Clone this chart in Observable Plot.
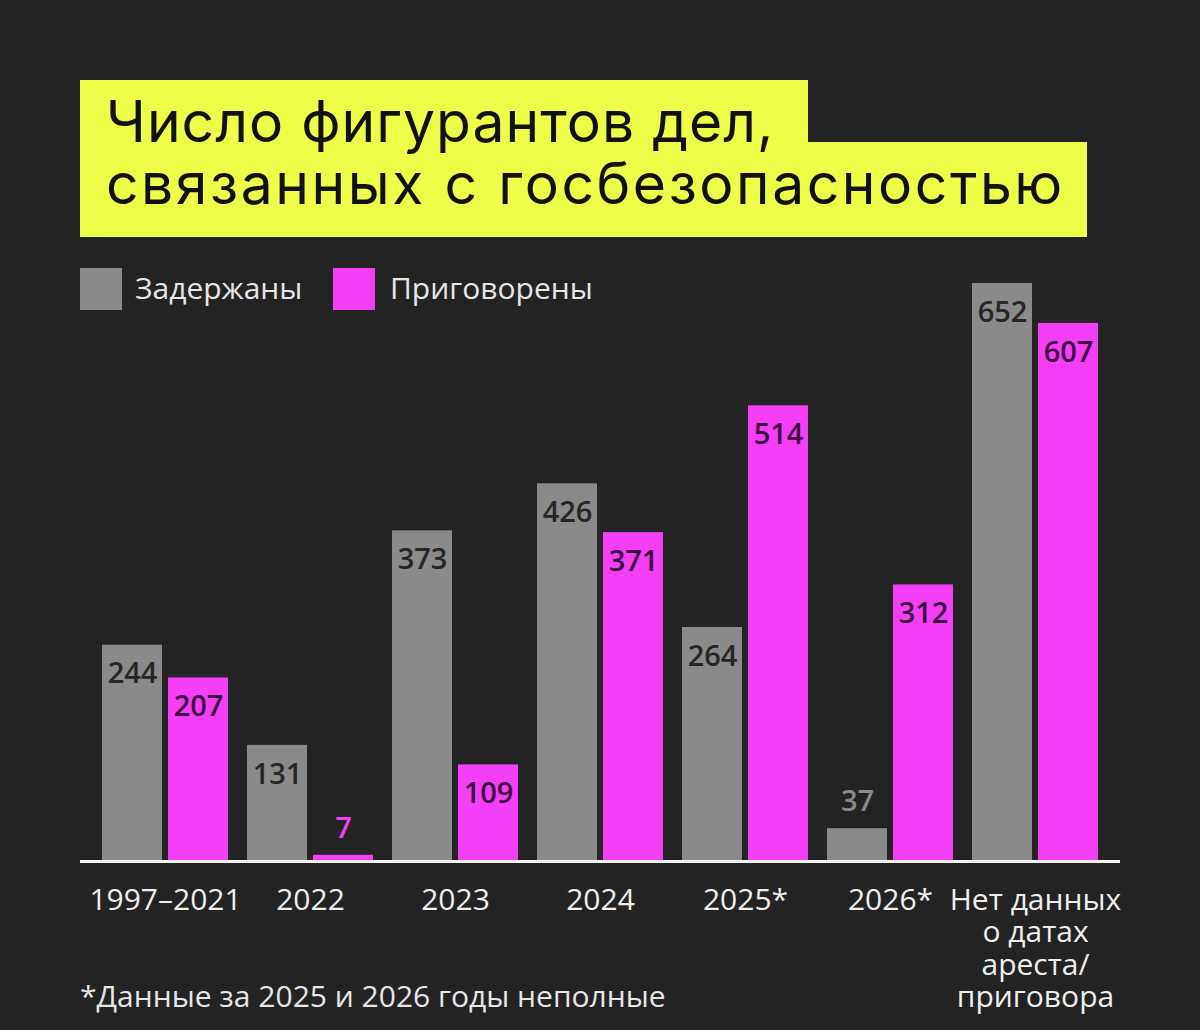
<!DOCTYPE html>
<html>
<head>
<meta charset="utf-8">
<script src="https://cdn.jsdelivr.net/npm/d3@7"></script>
<script src="https://cdn.jsdelivr.net/npm/@observablehq/plot@0.6"></script>
<style>
  html, body { margin: 0; padding: 0; background: #232323; }
  #page { position: relative; width: 1200px; height: 1030px; background: #232323; overflow: hidden; font-family: "Open Sans", "Noto Sans", sans-serif; }
  .ybox { position: absolute; background: #eeff4a; }
  .tline { position: absolute; left: 106px; font-family: "Inter", "Liberation Sans", sans-serif; font-weight: 400; font-size: 57px; line-height: 62px; color: #111; white-space: nowrap; }
  .leg { position: absolute; top: 267px; height: 41px; line-height: 41px; font-size: 30px; color: #e6e6e6; white-space: nowrap; }
  .sw { position: absolute; top: 268px; width: 42px; height: 42px; }
  #chart { position: absolute; left: 0; top: 270px; }
  #note { position: absolute; left: 80px; top: 975px; font-size: 30px; line-height: 41px; color: #e6e6e6; white-space: nowrap; }
</style>
</head>
<body>
<div id="page">
  <div class="ybox" style="left:80px;top:80px;width:728px;height:63px;"></div>
  <div class="ybox" style="left:80px;top:142px;width:1007px;height:95px;"></div>
  <div class="tline" style="top:91px;letter-spacing:1px;">Число фигурантов дел,</div>
  <div class="tline" style="top:153px;letter-spacing:2.55px;">связанных с госбезопасностью</div>
  <div id="chart"></div>
  <div class="sw" style="left:80px;background:#8a8a8a;"></div>
  <div class="leg" style="left:135px;">Задержаны</div>
  <div class="sw" style="left:333px;background:#f43ff7;"></div>
  <div class="leg" style="left:390px;">Приговорены</div>
  <div id="note">*Данные за 2025 и 2026 годы неполные</div>
</div>
<script>
const categories = ["1997–2021", "2022", "2023", "2024", "2025*", "2026*", "Нет данных\nо датах\nареста/\nприговора"];
const detained   = [244, 131, 373, 426, 264, 37, 652];
const sentenced  = [207, 7, 109, 371, 514, 312, 607];
const seriesNames = ["Задержаны", "Приговорены"];
const seriesColors = ["#8a8a8a", "#f43ff7"];

const gray = categories.map((c, i) => ({cat: c, series: seriesNames[0], value: detained[i]}));
const pink = categories.map((c, i) => ({cat: c, series: seriesNames[1], value: sentenced[i]}));
const maxV = d3.max([...detained, ...sentenced]);
const inside = d => d.value > 60;

const chart = Plot.plot({
  width: 1200,
  height: 760,
  marginLeft: 80,
  marginRight: 80,
  marginTop: 13,
  marginBottom: 169,
  style: {background: "transparent", fontFamily: "Open Sans, Noto Sans, sans-serif"},
  x: {type: "band", domain: categories, paddingInner: 0.133, paddingOuter: 0.151, axis: null},
  y: {domain: [0, maxV], axis: null},
  marks: [
    Plot.barY(gray, {x: "cat", y: "value", fill: seriesColors[0], insetRight: 66}),
    Plot.barY(pink, {x: "cat", y: "value", fill: seriesColors[1], insetLeft: 66}),
    Plot.ruleY([0], {stroke: "#f2f2f2", strokeWidth: 3}),
    Plot.text(gray.filter(inside), {x: "cat", y: "value", text: d => String(d.value), dx: -33, dy: 29, fill: "#262626", fontSize: 29, fontWeight: 600}),
    Plot.text(pink.filter(inside), {x: "cat", y: "value", text: d => String(d.value), dx: 33, dy: 29, fill: "#3a0c40", fontSize: 29, fontWeight: 600}),
    Plot.text(gray.filter(d => !inside(d)), {x: "cat", y: "value", text: d => String(d.value), dx: -33, dy: -27, fill: seriesColors[0], fontSize: 29, fontWeight: 600}),
    Plot.text(pink.filter(d => !inside(d)), {x: "cat", y: "value", text: d => String(d.value), dx: 33, dy: -27, fill: seriesColors[1], fontSize: 29, fontWeight: 600}),
    Plot.text(categories, {x: d => d, text: d => d, frameAnchor: "bottom", lineAnchor: "top", dy: 25, lineHeight: 1.083, fill: "#eeeeee", fontSize: 30})
  ]
});
document.getElementById("chart").appendChild(chart);
</script>
</body>
</html>
